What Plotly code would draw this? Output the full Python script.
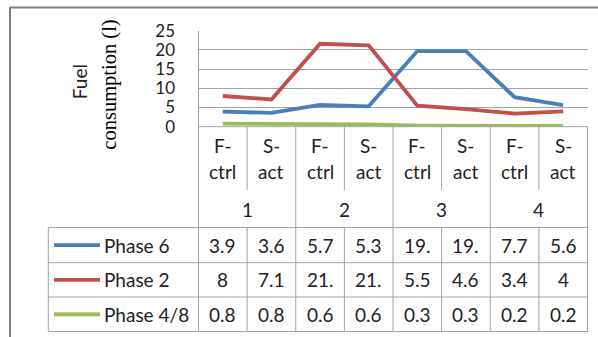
import plotly.graph_objects as go

# Fuel consumption per phase, for each site and controller setting
sites = ["1", "2", "3", "4"]
modes = ["F-\nctrl", "S-\nact"]
series_names = ["Phase 6", "Phase 2", "Phase 4/8"]
phase6 = [3.9, 3.6, 5.7, 5.3, 19.7, 19.7, 7.7, 5.6]
phase2 = [8, 7.1, 21.6, 21.2, 5.5, 4.6, 3.4, 4]
phase48 = [0.8, 0.8, 0.6, 0.6, 0.3, 0.3, 0.2, 0.2]
y_ticks = [0, 5, 10, 15, 20, 25]

series = [phase6, phase2, phase48]
colors = ["#4A7EBB", "#C0504D", "#9BBB59"]

W, H = 598, 337
FONT = "Lato"
TXT = "#222222"
GRID = "#a3a3a3"


def px(x):
    return x / W


def py(y):
    return 1 - y / H


# pixel layout of plot area and data table
X0, X1 = 198.5, 587.5
Y_TOP, Y_AX = 30.7, 126.7
Y_GRP = 190.0
Y_ROWS = [227.5, 262.7, 297.0, 331.5]
X_TAB = 48.3

n = len(phase6)
xs = list(range(n))

fig = go.Figure()
for name, vals, c in zip(series_names, series, colors):
    fig.add_trace(go.Scatter(
        x=xs, y=vals, mode="lines", name=name,
        line=dict(color=c, width=3.8), showlegend=False,
    ))

shapes = []


def hline(x_a, x_b, y, color=GRID, width=1):
    shapes.append(dict(type="line", xref="paper", yref="paper",
                       x0=px(x_a), x1=px(x_b), y0=py(y), y1=py(y),
                       line=dict(color=color, width=width)))


def vline(x, y_a, y_b, color=GRID, width=1):
    shapes.append(dict(type="line", xref="paper", yref="paper",
                       x0=px(x), x1=px(x), y0=py(y_a), y1=py(y_b),
                       line=dict(color=color, width=width)))


def col_edge(k):
    # boundary k between categories (0..n)
    return X0 + k * (X1 - X0) / n


# outer frame
hline(10, 600, 7.5, color="#808080", width=2)
vline(10, 7, 340, color="#808080", width=2)

# table grid
hline(X0, X1, Y_AX)
for y in Y_ROWS:
    hline(X_TAB, X1, y)
vline(X_TAB, Y_ROWS[0], Y_ROWS[-1])
for k in range(n + 1):
    if k % 2 == 0:
        vline(col_edge(k), Y_AX, Y_ROWS[-1])
    else:
        vline(col_edge(k), Y_AX, Y_GRP)
        vline(col_edge(k), Y_ROWS[0], Y_ROWS[-1])

annotations = []
font = dict(family=FONT, size=19, color=TXT)

# category header: controller mode and site
for i in range(n):
    top, bottom = modes[i % 2].split("\n")
    annotations.append(dict(xref="x", yref="paper", x=i, y=py(145),
                            text=top, showarrow=False, font=font,
                            xanchor="center", yanchor="middle"))
    annotations.append(dict(xref="x", yref="paper", x=i, y=py(171.5),
                            text=bottom, showarrow=False, font=font,
                            xanchor="center", yanchor="middle"))
for j, s in enumerate(sites):
    annotations.append(dict(xref="x", yref="paper", x=2 * j + 0.5, y=py(209),
                            text=s, showarrow=False, font=font,
                            xanchor="center", yanchor="middle"))


def cell_text(v):
    # cells are narrow: keep only the first three characters
    return f"{v:g}"[:3]


for r, (name, vals, c) in enumerate(zip(series_names, series, colors)):
    yc = (Y_ROWS[r] + Y_ROWS[r + 1]) / 2
    shapes.append(dict(type="line", xref="paper", yref="paper",
                       x0=px(54), x1=px(100), y0=py(yc), y1=py(yc),
                       line=dict(color=c, width=3.8)))
    annotations.append(dict(xref="paper", yref="paper", x=px(101.5), y=py(yc),
                            text=name, showarrow=False, font=font,
                            xanchor="left", yanchor="middle"))
    for i, v in enumerate(vals):
        annotations.append(dict(xref="x", yref="paper", x=i, y=py(yc),
                                text=cell_text(v), showarrow=False, font=font,
                                xanchor="center", yanchor="middle"))

# axis title, in two lines
annotations.append(dict(xref="paper", yref="paper", x=px(79.5), y=py(81.7),
                        text="Fuel", textangle=-90, showarrow=False,
                        font=dict(family=FONT, size=19, color=TXT),
                        xanchor="center", yanchor="middle"))
annotations.append(dict(xref="paper", yref="paper", x=px(110), y=py(84.7),
                        text="consumption (l)", textangle=-90, showarrow=False,
                        font=dict(family="Liberation Serif", size=20.5, color="#000"),
                        xanchor="center", yanchor="middle"))

fig.update_layout(
    width=W, height=H,
    margin=dict(l=0, r=0, t=0, b=0, pad=0, autoexpand=False),
    paper_bgcolor="white", plot_bgcolor="white",
    showlegend=False,
    shapes=shapes,
    annotations=annotations,
    xaxis=dict(domain=[px(X0), px(X1)], range=[-0.5, n - 0.5],
               showgrid=False, zeroline=False, showticklabels=False,
               showline=False, fixedrange=True, automargin=False),
    yaxis=dict(domain=[py(Y_AX), py(Y_TOP)], range=[0, 25],
               tickvals=y_ticks, showgrid=True, gridcolor=GRID, gridwidth=1,
               zeroline=False, showline=True, linecolor=GRID, linewidth=1,
               ticks="", ticklabelstandoff=19, automargin=False,
               tickfont=dict(family=FONT, size=17, color=TXT),
               fixedrange=True),
)

fig.write_html("out.html")
